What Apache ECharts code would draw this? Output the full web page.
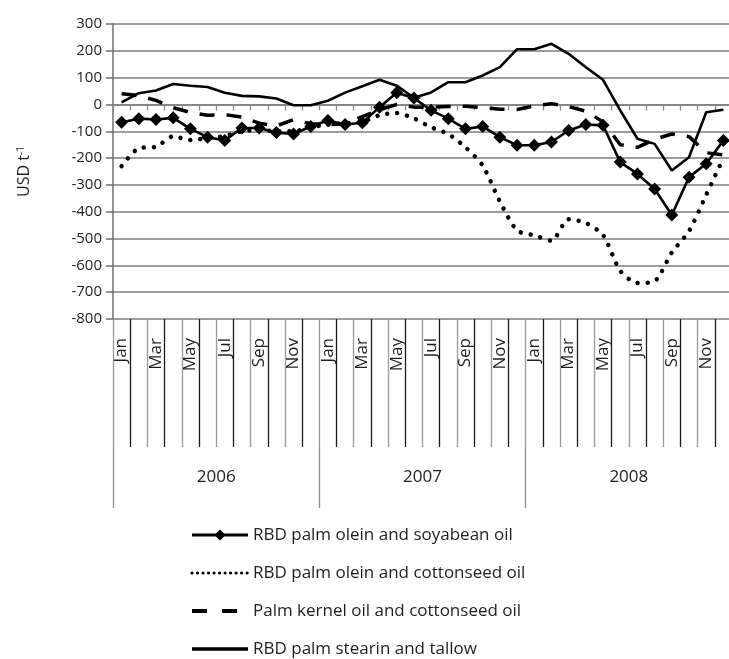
<!DOCTYPE html>
<html>
<head>
<meta charset="utf-8">
<script src="https://cdn.jsdelivr.net/npm/echarts@6/dist/echarts.min.js"></script>
<style>html,body{margin:0;padding:0;background:#fff}#chart{width:729px;height:659px}</style>
</head>
<body>
<div id="chart"></div>
<script>
var months = ['Jan','Feb','Mar','Apr','May','Jun','Jul','Aug','Sep','Oct','Nov','Dec',
              'Jan','Feb','Mar','Apr','May','Jun','Jul','Aug','Sep','Oct','Nov','Dec',
              'Jan','Feb','Mar','Apr','May','Jun','Jul','Aug','Sep','Oct','Nov','Dec'];
var years = ['2006','2007','2008'];
var yTicks = [-800,-700,-600,-500,-400,-300,-200,-100,0,100,200,300];

var soyabean = [-66,-53,-56,-50,-91,-122,-134,-88,-88,-105,-110,-82,
                -60,-75,-68,-10,44,24,-22,-53,-91,-82,-122,-152,
                -152,-140,-97,-75,-78,-215,-259,-315,-412,-271,-221,-134];
var cottonseed = [-230,-163,-158,-119,-133,-125,-118,-100,-95,-100,-100,-85,
                  -75,-70,-65,-40,-32,-52,-85,-110,-160,-228,-362,-470,
                  -488,-508,-428,-442,-487,-620,-666,-659,-552,-472,-337,-200];
var kernel = [40,33,15,-12,-30,-40,-38,-47,-70,-80,-57,-72,
              -75,-72,-45,-20,0,-10,-10,-8,-7,-12,-18,-19,
              -5,3,-8,-25,-65,-150,-160,-130,-110,-120,-180,-188];
var stearin = [8,42,52,76,70,65,44,32,30,22,-3,-3,
               14,44,68,92,70,25,45,83,83,108,139,206,
               206,226,189,139,92,-22,-128,-147,-246,-197,-29,-20];

var names = ['RBD palm olein and soyabean oil','RBD palm olein and cottonseed oil',
             'Palm kernel oil and cottonseed oil','RBD palm stearin and tallow'];

var FONT = '"Open Sans", "Noto Sans", sans-serif';
var TXT = '#1e1e1e';
var GRID = '#7d7d7d';

var chart = echarts.init(document.getElementById('chart'), null, {renderer: 'canvas'});
chart.setOption({
  backgroundColor: '#fff',
  animation: false,
  grid: {left: 113, right: -3, top: 24, bottom: 340, containLabel: false, outerBoundsMode: 'none'},
  legend: {
    orient: 'vertical', left: 190, top: 525, padding: 0,
    itemWidth: 56, itemHeight: 14, itemGap: 18,
    textStyle: {fontSize: 17, fontFamily: FONT, color: TXT, lineHeight: 20},
    data: [
      {name: names[0], lineStyle: {width: 3, color: '#000'}, itemStyle: {color: '#000'}},
      {name: names[1], lineStyle: {type: [0.01, 5.5], width: 3.2, cap: 'round', color: '#000'}, itemStyle: {opacity: 0}},
      {name: names[2], lineStyle: {type: [15, 15], width: 4, color: '#000'}, itemStyle: {opacity: 0}},
      {name: names[3], lineStyle: {width: 3.5, color: '#000'}, itemStyle: {opacity: 0}}
    ]
  },
  xAxis: [
    { // month labels + black separators
      type: 'category', data: months, position: 'bottom', boundaryGap: true,
      axisLine: {show: false, onZero: false},
      axisTick: {show: true, length: 128, interval: function (i) { return i % 2 === 1; },
                 lineStyle: {color: '#1a1a1a', width: 1.3}},
      axisLabel: {interval: 1, rotate: 90, margin: 19, fontSize: 17, fontFamily: FONT, color: TXT}
    },
    { // grey separators
      type: 'category', data: months, position: 'bottom', boundaryGap: true,
      axisLine: {show: false, onZero: false},
      axisTick: {show: true, length: 128, interval: function (i) { return i % 2 === 0; },
                 lineStyle: {color: '#9a9a9a', width: 1.3}},
      axisLabel: {show: false}
    },
    { // axis crossing at zero with short ticks
      type: 'category', data: months, position: 'bottom', boundaryGap: true,
      axisLine: {show: true, onZero: true, lineStyle: {color: GRID, width: 1.5}},
      axisTick: {show: true, length: 6, interval: 0, lineStyle: {color: '#8a8a8a', width: 1.3}},
      axisLabel: {show: false}
    },
    { // years
      type: 'category', data: years, position: 'bottom', offset: 128, boundaryGap: true,
      axisLine: {show: false, onZero: false},
      axisTick: {show: true, length: 61, interval: 0, lineStyle: {color: '#8a8a8a', width: 1.3}},
      axisLabel: {interval: 0, margin: 22, fontSize: 17, fontFamily: FONT, color: TXT}
    }
  ],
  yAxis: {
    type: 'value', min: yTicks[0], max: yTicks[yTicks.length - 1], interval: 100,
    name: 'USD t{sup|-1}', nameLocation: 'middle', nameRotate: 90, nameGap: 81,
    nameTextStyle: {fontSize: 16, fontFamily: FONT, color: TXT,
                    rich: {sup: {fontSize: 10, fontFamily: FONT, color: TXT, verticalAlign: 'top', lineHeight: 10}}},
    axisLine: {show: true, lineStyle: {color: '#6f6f6f', width: 1.5}},
    axisTick: {show: true, length: 7, lineStyle: {color: '#6f6f6f', width: 1.5}},
    axisLabel: {margin: 11, fontSize: 15, fontFamily: FONT, color: TXT},
    splitLine: {show: true, lineStyle: {color: GRID, width: 1.6}}
  },
  series: [
    {name: names[2], type: 'line', data: kernel, xAxisIndex: 0, showSymbol: false, symbol: 'none',
     lineStyle: {color: '#000', width: 3.5, type: [15, 12]}, itemStyle: {color: '#000'}, z: 3},
    {name: names[1], type: 'line', data: cottonseed, xAxisIndex: 0, showSymbol: false, symbol: 'none', smooth: 0.25,
     lineStyle: {color: '#000', width: 4.5, type: [0.01, 10], cap: 'round'}, itemStyle: {color: '#000'}, z: 3},
    {name: names[3], type: 'line', data: stearin, xAxisIndex: 0, showSymbol: false, symbol: 'none',
     lineStyle: {color: '#000', width: 2.6}, itemStyle: {color: '#000'}, z: 4},
    {name: names[0], type: 'line', data: soyabean, xAxisIndex: 0, symbol: 'diamond', symbolSize: 13,
     showAllSymbol: true,
     lineStyle: {color: '#000', width: 2.6}, itemStyle: {color: '#000'}, z: 5}
  ]
});
</script>
</body>
</html>
